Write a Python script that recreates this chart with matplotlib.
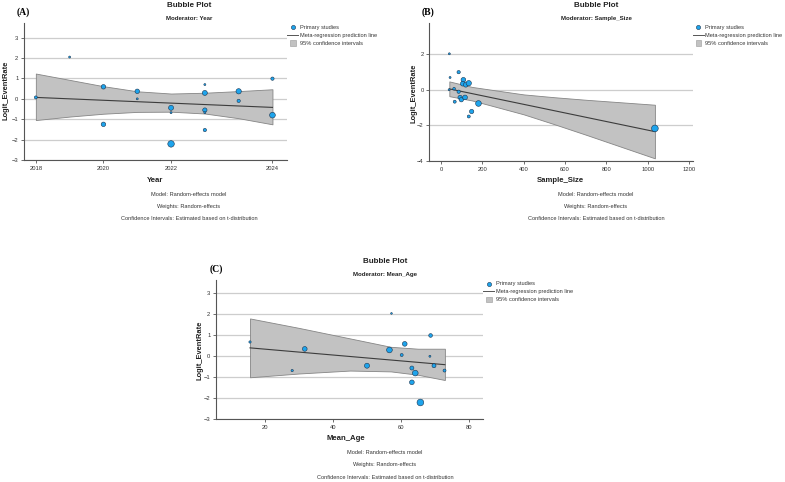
import matplotlib
matplotlib.use("Agg")
import matplotlib.pyplot as plt
from matplotlib.lines import Line2D
from matplotlib.patches import Rectangle

plt.rcParams['font.family'] = ['Liberation Sans', 'DejaVu Sans']

W, H = 785, 482

# ---- panel A: moderator Year ----
# x positions as they sit on the source axis (its last tick is labelled 2024)
year_x = [2018, 2019, 2020, 2020, 2021, 2021, 2022, 2022, 2022,
          2023, 2023, 2023, 2023, 2023, 2024, 2024, 2025, 2025]
year_y = [0.07, 2.05, 0.59, -1.25, 0.37, 0.00, -0.44, -0.68, -2.21,
          0.70, 0.29, -0.55, -0.68, -1.53, 0.37, -0.10, 0.99, -0.80]
year_d = [3, 2, 4.5, 4.5, 4.5, 2, 5, 2, 6.5, 2, 5, 4.3, 2, 3.3, 5.3, 3.3, 3.3, 5.7]
year_line_x = [2018, 2025]
year_line_y = [0.07, -0.42]
year_band_x = [2018, 2019, 2020, 2021, 2022, 2023, 2024, 2025]
year_band_hi = [1.24, 0.93, 0.62, 0.37, 0.26, 0.30, 0.38, 0.47]
year_band_lo = [-1.04, -0.87, -0.73, -0.64, -0.63, -0.72, -0.95, -1.25]
year_ticks = [2018, 2020, 2022, 2025]
year_ticklabels = ['2018', '2020', '2022', '2024']

# ---- panel B: moderator Sample_Size ----
size_x = [40, 43.5, 39, 63, 66, 85, 85, 92, 98, 108, 105, 119.5, 134, 116,
          134, 148, 181, 1035]
size_y = [2.02, 0.69, 0.00, 0.06, -0.67, 0.99, -0.11, -0.43, -0.56, 0.56,
          0.34, 0.28, 0.37, -0.43, -1.50, -1.22, -0.77, -2.17]
size_d = [2, 2, 2, 2.7, 3, 3.3, 3.3, 4.3, 4.3, 4.7, 4.7, 4.7, 5.3, 4.7,
          3, 4.3, 5.7, 6.7]
size_line_x = [40, 1035]
size_line_y = [0.05, -2.35]
size_band_x = [40, 150, 250, 400, 550, 700, 1035]
size_band_hi = [0.47, 0.16, -0.01, -0.26, -0.42, -0.56, -0.84]
size_band_lo = [-0.36, -0.60, -0.91, -1.38, -1.94, -2.52, -3.85]

# ---- panel C: moderator Mean_Age ----
age_x = [15.6, 28.0, 31.7, 50.0, 57.2, 56.6, 60.2, 61.1, 63.2, 63.2, 64.2,
         65.7, 68.7, 68.5, 69.7, 72.8]
age_y = [0.68, -0.68, 0.35, -0.45, 2.04, 0.30, 0.06, 0.59, -0.56, -1.24,
         -0.80, -2.20, 0.99, 0.00, -0.45, -0.68]
age_d = [2.3, 2.3, 4.7, 5, 1.7, 5.7, 3, 4.7, 4, 4.7, 5.7, 6.7, 3.7, 2, 4, 3]
age_line_x = [15.6, 72.9]
age_line_y = [0.40, -0.40]
age_band_x = [15.6, 30, 45, 57, 65, 72.9]
age_band_hi = [1.80, 1.35, 0.85, 0.45, 0.36, 0.36]
age_band_lo = [-1.00, -0.82, -0.68, -0.72, -0.88, -1.13]

BLUE = '#1ea4ec'
EDGE = '#1b3550'
BAND = '#c2c2c2'
BAND_EDGE = '#858585'
LINE = '#3c3c3c'
GRID = '#cdcdcd'


def fx(x):
    return x / W


def fy(y):
    return 1 - y / H


def make_axes(fig, left, top, right, bottom):
    ax = fig.add_axes([fx(left), fy(bottom), fx(right - left), (bottom - top) / H])
    for s in ['top', 'right']:
        ax.spines[s].set_visible(False)
    for s in ['left', 'bottom']:
        ax.spines[s].set_color('#555555')
        ax.spines[s].set_linewidth(0.8)
    ax.tick_params(labelsize=4.2, colors='#333333', length=2, width=0.5, pad=2)
    ax.yaxis.grid(True, color=GRID, linewidth=0.9)
    ax.set_axisbelow(True)
    return ax


def draw_panel(ax, x, y, d, lx, ly, bx, bhi, blo):
    ax.fill_between(bx, blo, bhi, facecolor=BAND, edgecolor=BAND_EDGE,
                    linewidth=0.6, zorder=2)
    ax.plot(lx, ly, color=LINE, linewidth=0.8, zorder=3)
    ax.scatter(x, y, s=[(v * 0.72) ** 2 for v in d], c=BLUE,
               edgecolors=EDGE, linewidths=0.4, zorder=4)


def legend(fig, x0, y0):
    # manual legend to the right of each panel
    fig.add_artist(Line2D([fx(x0 + 5.5)], [fy(y0)], marker='o', markersize=3,
                          markerfacecolor=BLUE, markeredgecolor=EDGE,
                          markeredgewidth=0.4, linestyle='none',
                          transform=fig.transFigure))
    fig.add_artist(Line2D([fx(x0), fx(x0 + 11)], [fy(y0 + 7.5), fy(y0 + 7.5)],
                          color='#555555', linewidth=0.7,
                          transform=fig.transFigure))
    fig.add_artist(Rectangle((fx(x0 + 3), fy(y0 + 18.5)), 5.5 / W, 5.5 / H,
                             facecolor=BAND, edgecolor='#999999',
                             linewidth=0.4, transform=fig.transFigure))
    labels = ['Primary studies', 'Meta-regression prediction line',
              '95% confidence intervals']
    for i, t in enumerate(labels):
        fig.text(fx(x0 + 12.5), fy(y0 + i * 8), t, fontsize=4.1,
                 color='#333333', ha='left', va='center')


def headings(fig, tag, tagx, tagy, cx, ty, moderator, ylx, yly, xlabel, xlx, xly, noty):
    fig.text(fx(tagx), fy(tagy), tag, fontsize=7, fontweight='bold',
             family='Liberation Serif', ha='center', va='center')
    fig.text(fx(cx), fy(ty), 'Bubble Plot', fontsize=5.8, fontweight='bold',
             ha='center', va='center', color='#222222')
    fig.text(fx(cx), fy(ty + 12.6), 'Moderator: ' + moderator, fontsize=4.4,
             fontweight='bold', ha='center', va='center', color='#222222')
    fig.text(fx(ylx), fy(yly), 'Logit_EventRate', fontsize=5.4,
             fontweight='bold', rotation=90, ha='center', va='center',
             color='#222222')
    fig.text(fx(xlx), fy(xly), xlabel, fontsize=5.6, fontweight='bold',
             ha='center', va='center', color='#222222')
    notes = ['Model: Random-effects model', 'Weights: Random-effects',
             'Confidence Intervals: Estimated based on t-distribution']
    for i, t in enumerate(notes):
        fig.text(fx(cx), fy(noty + i * 12.2), t, fontsize=4.1,
                 ha='center', va='center', color='#333333')


fig = plt.figure(figsize=(W / 100, H / 100), dpi=100)

# panel A
axA = make_axes(fig, 24, 23, 287, 160)
draw_panel(axA, year_x, year_y, year_d, year_line_x, year_line_y,
           year_band_x, year_band_hi, year_band_lo)
axA.set_xlim(2017.65, 2025.43)
axA.set_ylim(-3, 3.72)
axA.set_yticks([-3, -2, -1, 0, 1, 2, 3])
axA.set_xticks(year_ticks)
axA.set_xticklabels(year_ticklabels)
headings(fig, '(A)', 23, 12, 189, 5.7, 'Year', 6, 90, 'Year', 155, 180, 194.3)
legend(fig, 287, 27.3)

# panel B
axB = make_axes(fig, 429.3, 23, 692.7, 161)
draw_panel(axB, size_x, size_y, size_d, size_line_x, size_line_y,
           size_band_x, size_band_hi, size_band_lo)
axB.set_xlim(-57, 1218)
axB.set_ylim(-4, 3.75)
axB.set_yticks([-4, -2, 0, 2])
axB.set_xticks([0, 200, 400, 600, 800, 1000, 1200])
headings(fig, '(B)', 428.3, 12.3, 596, 5.7, 'Sample_Size', 413.5, 93,
         'Sample_Size', 560, 180, 194.3)
legend(fig, 692.7, 27.3)

# panel C
axC = make_axes(fig, 216, 280, 483.3, 419.3)
draw_panel(axC, age_x, age_y, age_d, age_line_x, age_line_y,
           age_band_x, age_band_hi, age_band_lo)
axC.set_xlim(5.6, 84.2)
axC.set_ylim(-3, 3.63)
axC.set_yticks([-3, -2, -1, 0, 1, 2, 3])
axC.set_xticks([20, 40, 60, 80])
headings(fig, '(C)', 216.7, 269, 385, 261.7, 'Mean_Age', 200, 350,
         'Mean_Age', 345.7, 438.3, 452.7)
legend(fig, 483.3, 283.7)

fig.savefig('out.png', dpi=100)
